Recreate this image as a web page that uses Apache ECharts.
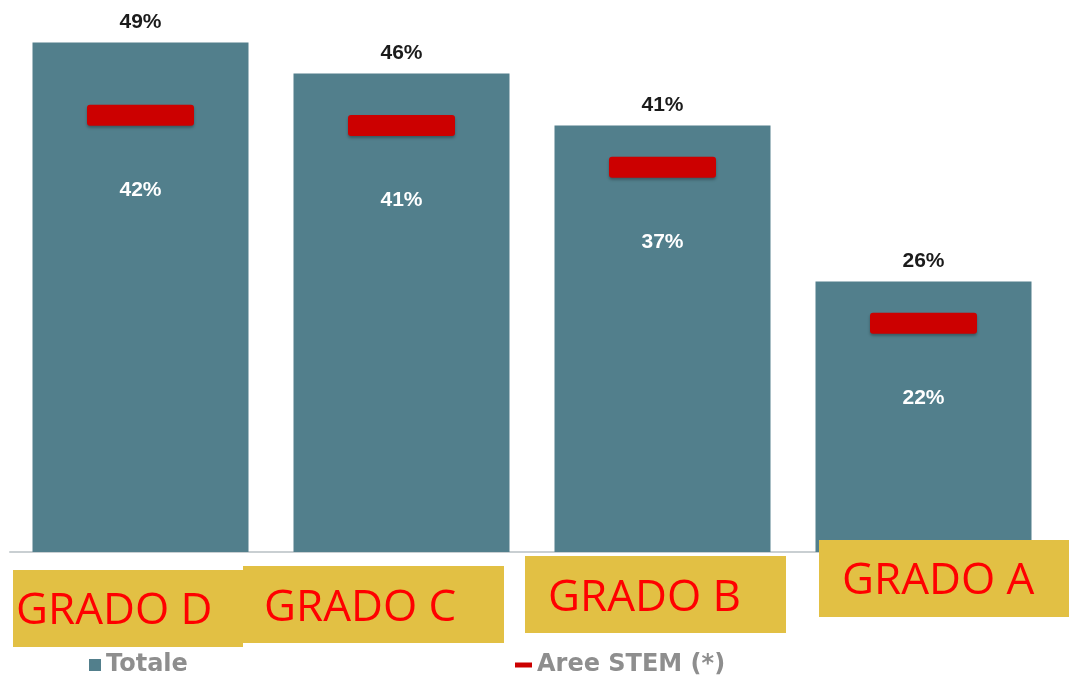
<!DOCTYPE html>
<html>
<head>
<meta charset="utf-8">
<script src="https://cdn.jsdelivr.net/npm/echarts@6/dist/echarts.min.js"></script>
<style>
  html, body { margin: 0; padding: 0; background: #fff; }
  #chart { width: 1069px; height: 678px; }
</style>
</head>
<body>
<div id="chart"></div>
<script>
// categorie e valori
const categories = ['GRADO D', 'GRADO C', 'GRADO B', 'GRADO A'];
const totale = [49, 46, 41, 26];
const areeStem = [42, 41, 37, 22];

// riquadri gialli sopra le etichette dell'asse: [x, y, w, h, testoX, testoY]
const boxes = [
  [13, 570, 230, 77, 16, 611],
  [243, 566, 261, 77, 264, 608],
  [525, 556, 261, 77, 548, 598],
  [819, 540, 250, 77, 842, 581]
];

const chart = echarts.init(document.getElementById('chart'));

const graphics = [];
boxes.forEach((b, i) => {
  graphics.push({
    type: 'rect',
    z: 100,
    shape: { x: b[0], y: b[1], width: b[2], height: b[3] },
    style: { fill: '#e2c044' }
  });
  graphics.push({
    type: 'text',
    z: 101,
    x: b[4],
    y: b[5],
    style: {
      text: categories[i],
      fill: '#ff0000',
      font: '44px "Open Sans"',
      textAlign: 'left',
      textVerticalAlign: 'middle'
    }
  });
});

const legendText = { color: '#8e8e8e', fontSize: 24, fontWeight: 'bold', fontFamily: 'DejaVu Sans' };

const option = {
  backgroundColor: '#ffffff',
  animation: false,
  grid: { left: 10, right: 15, top: 32, bottom: 126 },
  legend: [
    {
      data: ['Totale'],
      left: 84,
      top: 648,
      icon: 'rect',
      itemWidth: 12,
      itemHeight: 12,
      itemGap: 6,
      textStyle: legendText
    },
    {
      data: ['Aree STEM (*)'],
      left: 510,
      top: 648,
      icon: 'rect',
      itemWidth: 17,
      itemHeight: 5,
      textStyle: legendText
    }
  ],
  xAxis: {
    type: 'category',
    data: categories,
    axisLine: { lineStyle: { color: '#c9cfd2', width: 2 } },
    axisTick: { show: false },
    axisLabel: { show: false }
  },
  yAxis: {
    type: 'value',
    min: 0,
    max: 50,
    show: false
  },
  series: [
    {
      name: 'Totale',
      type: 'bar',
      barWidth: 216,
      data: totale,
      itemStyle: { color: '#527f8c' },
      label: {
        show: true,
        position: 'top',
        distance: 10,
        formatter: '{c}%',
        color: '#1b1b1b',
        fontSize: 21,
        fontWeight: 'bold',
        fontFamily: 'Liberation Sans'
      }
    },
    {
      name: 'Aree STEM (*)',
      type: 'scatter',
      z: 5,
      symbol: 'path://M3,0 H104 Q107,0 107,3 V18 Q107,21 104,21 H3 Q0,21 0,18 V3 Q0,0 3,0 Z',
      symbolSize: [107, 21],
      symbolKeepAspect: false,
      data: areeStem,
      itemStyle: {
        color: '#cc0000',
        opacity: 1,
        shadowBlur: 3,
        shadowColor: 'rgba(0,0,0,0.3)',
        shadowOffsetY: 2
      },
      label: {
        show: true,
        position: 'inside',
        offset: [0, 75],
        formatter: '{c}%',
        color: '#ffffff',
        fontSize: 21,
        fontWeight: 'bold',
        fontFamily: 'Liberation Sans'
      }
    }
  ],
  graphic: graphics
};

chart.setOption(option);
</script>
</body>
</html>
